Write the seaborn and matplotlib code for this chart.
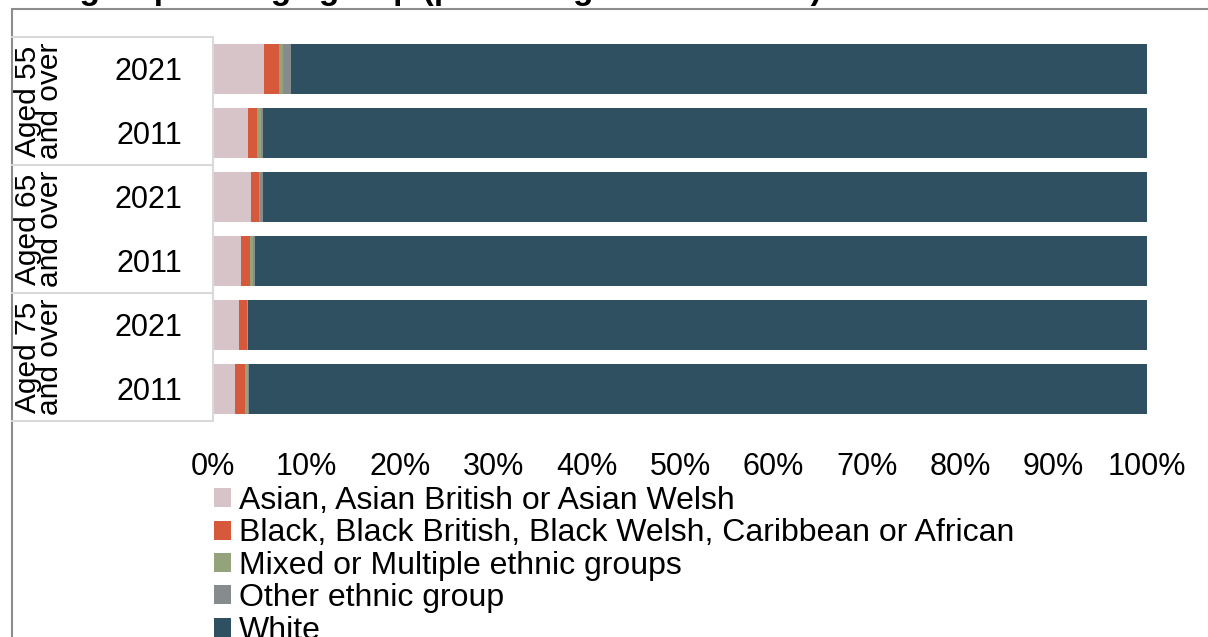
import numpy as np
import pandas as pd
import matplotlib
matplotlib.use("Agg")
import matplotlib.pyplot as plt
import matplotlib.transforms as mtransforms
from matplotlib.lines import Line2D
from matplotlib.patches import Rectangle, Patch
import seaborn as sns

# ---------------- data ----------------
title = "Ethnic group and age group (percentage of residents)"
age_groups = ["Aged 55\nand over", "Aged 65\nand over", "Aged 75\nand over"]
years = ["2021", "2011"]
ethnic_groups = [
    "Asian, Asian British or Asian Welsh",
    "Black, Black British, Black Welsh, Caribbean or African",
    "Mixed or Multiple ethnic groups",
    "Other ethnic group",
    "White",
]
# rows (top to bottom): 55+ 2021, 55+ 2011, 65+ 2021, 65+ 2011, 75+ 2021, 75+ 2011
asian = [5.5, 3.8, 4.1, 3.0, 2.8, 2.4]
black = [1.6, 0.9, 0.8, 1.0, 0.8, 1.0]
mixed = [0.4, 0.4, 0.1, 0.3, 0.1, 0.3]
other = [0.8, 0.3, 0.4, 0.2, 0.1, 0.2]
white = [91.7, 94.6, 94.6, 95.5, 96.2, 96.1]
x_ticks = [0, 10, 20, 30, 40, 50, 60, 70, 80, 90, 100]
colors = ["#D6C4C8", "#D6593B", "#95A37C", "#868B8E", "#2E5060"]

# ---------------- style ----------------
sns.set_theme(style="white")
plt.rcParams["font.family"] = ["Liberation Sans", "DejaVu Sans"]
plt.rcParams["text.color"] = "black"
plt.rcParams["axes.labelcolor"] = "black"

W, H = 1208, 637
fig = plt.figure(figsize=(W / 100, H / 100), dpi=100)


def fx(px):
    return px / W


def fy(py):
    return 1 - py / H


ax = fig.add_axes([fx(213), fy(421), fx(1147) - fx(213), fy(37) - fy(421)])

row_ids = [f"{a.split()[1]}_{y}" for a in age_groups for y in years]
series = np.array([asian, black, mixed, other, white])
cum = np.cumsum(series, axis=0)
df = pd.DataFrame({"row": row_ids})
for i, g in enumerate(ethnic_groups):
    df[g] = cum[i]

for i in reversed(range(len(ethnic_groups))):
    sns.barplot(data=df, x=ethnic_groups[i], y="row", order=row_ids, orient="h",
                color=colors[i], saturation=1, width=0.77, ax=ax,
                edgecolor="none", linewidth=0)

ax.set_xlim(0, 100)
ax.set_xticks(x_ticks)
ax.set_xticklabels([f"{v}%" for v in x_ticks])
ax.set_yticks(range(len(row_ids)))
ax.set_yticklabels(years * len(age_groups))
ax.set_xlabel("")
ax.set_ylabel("")
ax.tick_params(axis="both", length=0, labelsize=22, colors="black")
ax.tick_params(axis="x", pad=22)
ax.tick_params(axis="y", pad=22)
for s in ["top", "right", "bottom"]:
    ax.spines[s].set_visible(False)
ax.spines["left"].set_color("#D9D9D9")
ax.spines["left"].set_linewidth(1.5)
ax.grid(False)

# label box lines and group labels
blend = mtransforms.blended_transform_factory(fig.transFigure, ax.transData)
n_years = len(years)
for k in range(len(age_groups) + 1):
    yv = k * n_years - 0.5
    fig.add_artist(Line2D([fx(12), fx(213)], [yv, yv], transform=blend,
                          color="#D9D9D9", lw=1.5))
for k, a in enumerate(age_groups):
    yc = k * n_years + (n_years - 1) / 2
    fig.text(fx(39), yc, a, transform=blend, rotation=90, ha="center",
             va="center", fontsize=21.5, multialignment="center", linespacing=0.74,
             color="black")

# figure border
fig.add_artist(Rectangle((fx(12), -0.2), 1.2, fy(9) + 0.2, transform=fig.transFigure,
                         fill=False, edgecolor="#8C8C8C", lw=1.5))

# title (cut off at top, as in the reference)
fig.text(fx(822), fy(-0.5), title, ha="right", va="baseline", fontsize=24,
         fontweight="bold", color="black")

# legend
handles = [Patch(facecolor=c, edgecolor="none") for c in colors]
fig.legend(handles, ethnic_groups, loc="upper left",
           bbox_to_anchor=(fx(214), fy(486)), frameon=False, fontsize=23,
           handlelength=0.54, handleheight=0.54, handletextpad=0.25,
           labelspacing=0.075, borderpad=0, borderaxespad=0, labelcolor="black")

fig.savefig("out.png", dpi=100)
